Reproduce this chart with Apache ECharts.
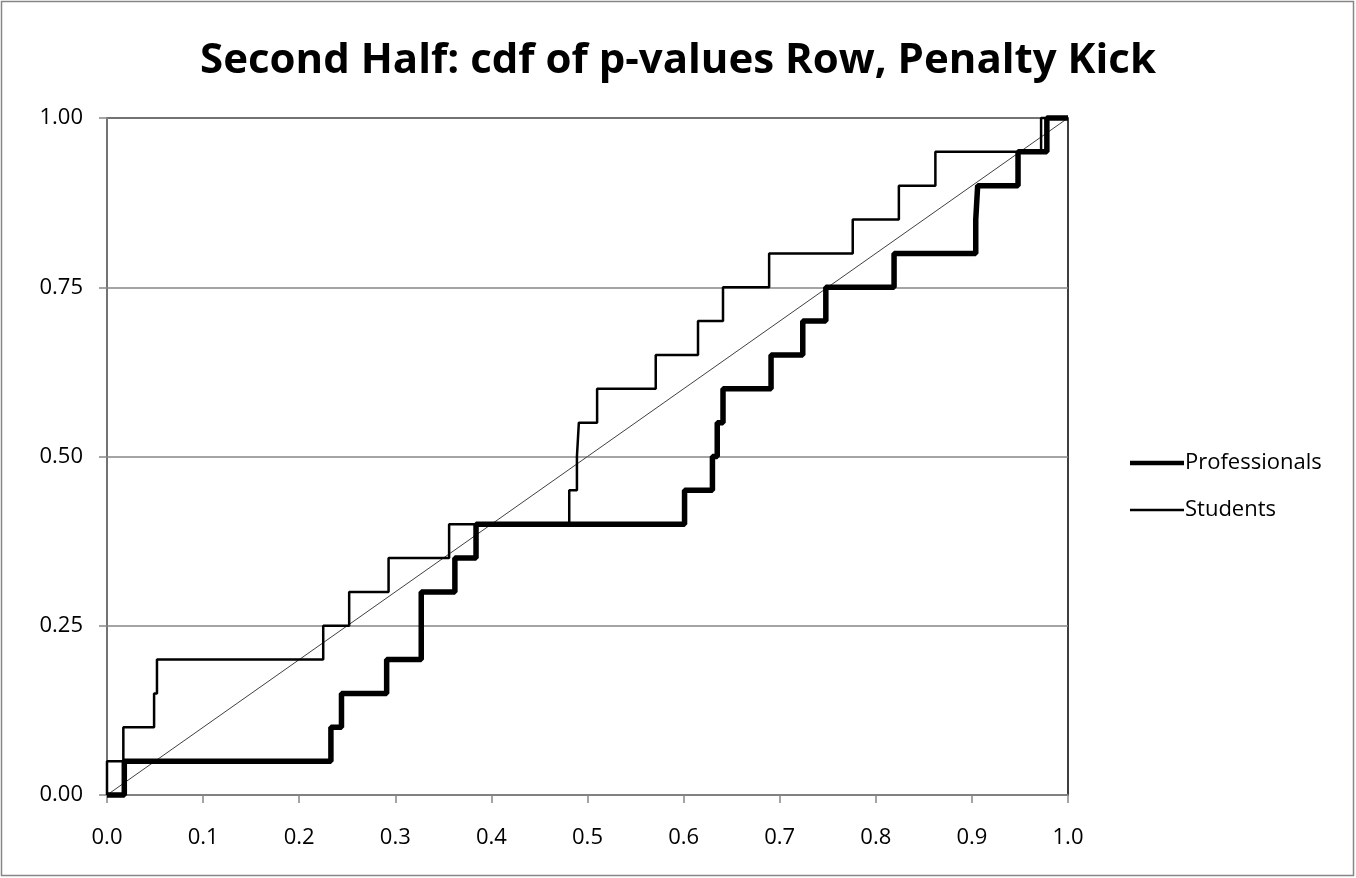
<!DOCTYPE html>
<html>
<head>
<meta charset="utf-8">
<script src="https://cdn.jsdelivr.net/npm/echarts@6/dist/echarts.min.js"></script>
<style>
  html, body { margin: 0; padding: 0; background: #fff; }
  #chart { width: 1356px; height: 878px; }
</style>
</head>
<body>
<div id="chart"></div>
<script>
// step points: [p-value where cdf jumps, new cdf value]
const professionals = [
  [0, 0], [0.018, 0.05], [0.233, 0.10], [0.244, 0.15], [0.291, 0.20],
  [0.327, 0.30], [0.362, 0.35], [0.384, 0.40], [0.601, 0.45], [0.630, 0.50],
  [0.635, 0.55], [0.641, 0.60], [0.691, 0.65], [0.724, 0.70], [0.748, 0.75],
  [0.819, 0.80], [0.904, 0.85], [0.906, 0.90], [0.948, 0.95], [0.978, 1.00],
  [1.0, 1.0]
]
const students = [
  [0, 0], [0, 0.05], [0.017, 0.10], [0.049, 0.15], [0.052, 0.20],
  [0.225, 0.25], [0.252, 0.30], [0.293, 0.35], [0.356, 0.40], [0.481, 0.45],
  [0.489, 0.50], [0.491, 0.55], [0.510, 0.60], [0.571, 0.65], [0.615, 0.70],
  [0.641, 0.75], [0.689, 0.80], [0.776, 0.85], [0.824, 0.90], [0.862, 0.95],
  [0.972, 1.00], [1.0, 1.0]
]
// 45 degree reference line
const diagonal = [[0, 0], [1, 1]]

const chart = echarts.init(document.getElementById('chart'))
const font = 'Open Sans, Liberation Sans, sans-serif'
const legendText = { fontFamily: font, fontSize: 22, color: '#000', padding: [0, 0, 0, -4] }

const option = {
  animation: false,
  backgroundColor: '#fff',
  title: {
    text: 'Second Half: cdf of p-values Row, Penalty Kick',
    left: 'center',
    top: 35,
    textStyle: { fontFamily: font, fontWeight: 'bold', fontSize: 42, color: '#000' }
  },
  graphic: [{
    type: 'rect',
    shape: { x: 1.5, y: 1.5, width: 1352, height: 874 },
    style: { fill: 'none', stroke: '#868686', lineWidth: 1.5 },
    silent: true
  }],
  grid: {
    left: 107, right: 288, top: 118, bottom: 83,
    show: true,
    borderColor: '#000',
    borderWidth: 1.5
  },
  // one legend per entry so each sample line can keep its own thickness
  legend: [
    {
      left: 1125, top: 447,
      icon: 'rect', itemWidth: 54, itemHeight: 4.5,
      textStyle: legendText,
      data: ['Professionals']
    },
    {
      left: 1125, top: 494,
      icon: 'rect', itemWidth: 54, itemHeight: 2.5,
      textStyle: legendText,
      data: ['Students']
    }
  ],
  xAxis: {
    type: 'value',
    min: 0, max: 1, interval: 0.1,
    axisLine: { show: true, onZero: false, lineStyle: { color: '#868686', width: 1.5 } },
    axisTick: { show: true, length: 8, lineStyle: { color: '#868686', width: 1.5 } },
    splitLine: { show: false },
    axisLabel: {
      fontFamily: font, fontSize: 22, color: '#000', margin: 32,
      formatter: v => v.toFixed(1)
    }
  },
  yAxis: {
    type: 'value',
    min: 0, max: 1, interval: 0.25,
    axisLine: { show: true, lineStyle: { color: '#868686', width: 1.5 } },
    axisTick: { show: true, length: 8, lineStyle: { color: '#868686', width: 1.5 } },
    splitLine: { show: true, lineStyle: { color: '#868686', width: 1.5 } },
    axisLabel: {
      fontFamily: font, fontSize: 22, color: '#000', margin: 24,
      formatter: v => v.toFixed(2)
    }
  },
  series: [
    {
      name: 'diagonal',
      type: 'line',
      data: diagonal,
      symbol: 'none',
      silent: true,
      lineStyle: { color: '#404040', width: 1 },
      z: 2
    },
    {
      name: 'Professionals',
      type: 'line',
      step: 'end',
      data: professionals,
      symbol: 'none',
      clip: false,
      itemStyle: { color: '#000' },
      lineStyle: { color: '#000', width: 5.5 },
      z: 3
    },
    {
      name: 'Students',
      type: 'line',
      step: 'end',
      data: students,
      symbol: 'none',
      clip: false,
      itemStyle: { color: '#000' },
      lineStyle: { color: '#000', width: 2.5 },
      z: 4
    }
  ]
}
chart.setOption(option)
</script>
</body>
</html>
